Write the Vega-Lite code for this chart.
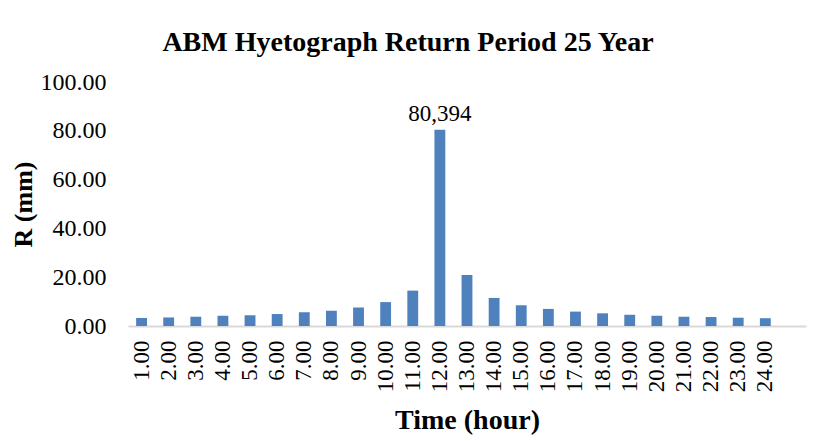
{
  "$schema": "https://vega.github.io/schema/vega-lite/v6.json",
  "width": 678,
  "height": 244,
  "autosize": {"type": "none"},
  "padding": {"left": 128, "top": 82, "right": 26, "bottom": 115},
  "background": "white",
  "title": {
    "text": "ABM Hyetograph Return Period 25 Year",
    "font": "Liberation Serif",
    "fontSize": 28,
    "fontWeight": "bold",
    "color": "black",
    "frame": "bounds",
    "anchor": "middle",
    "offset": 13
  },
  "data": {
    "values": [
      {"Time": "1.00", "R": 3.3},
      {"Time": "2.00", "R": 3.5},
      {"Time": "3.00", "R": 3.8},
      {"Time": "4.00", "R": 4.2},
      {"Time": "5.00", "R": 4.4},
      {"Time": "6.00", "R": 4.9},
      {"Time": "7.00", "R": 5.6},
      {"Time": "8.00", "R": 6.3},
      {"Time": "9.00", "R": 7.6},
      {"Time": "10.00", "R": 9.8},
      {"Time": "11.00", "R": 14.5},
      {"Time": "12.00", "R": 80.394, "label": "80,394"},
      {"Time": "13.00", "R": 20.9},
      {"Time": "14.00", "R": 11.5},
      {"Time": "15.00", "R": 8.5},
      {"Time": "16.00", "R": 7.0},
      {"Time": "17.00", "R": 5.9},
      {"Time": "18.00", "R": 5.2},
      {"Time": "19.00", "R": 4.6},
      {"Time": "20.00", "R": 4.2},
      {"Time": "21.00", "R": 3.8},
      {"Time": "22.00", "R": 3.7},
      {"Time": "23.00", "R": 3.4},
      {"Time": "24.00", "R": 3.2}
    ]
  },
  "encoding": {
    "x": {
      "field": "Time",
      "type": "ordinal",
      "sort": null,
      "scale": {
        "domain": ["1.00","2.00","3.00","4.00","5.00","6.00","7.00","8.00","9.00","10.00","11.00","12.00","13.00","14.00","15.00","16.00","17.00","18.00","19.00","20.00","21.00","22.00","23.00","24.00","25.00"],
        "paddingInner": 0.6,
        "paddingOuter": 0.3
      },
      "axis": {
        "title": "Time (hour)",
        "labelExpr": "datum.value == '25.00' ? '' : datum.value",
        "labelAngle": -90,
        "labelFont": "Liberation Serif",
        "labelFontSize": 23,
        "labelColor": "black",
        "labelPadding": 14,
        "ticks": false,
        "domainColor": "#d9d9d9",
        "domainWidth": 2,
        "titleFont": "Liberation Serif",
        "titleFontSize": 28,
        "titleFontWeight": "bold",
        "titleColor": "black",
        "titlePadding": 15
      }
    },
    "y": {
      "field": "R",
      "type": "quantitative",
      "scale": {"domain": [0, 100]},
      "axis": {
        "title": "R (mm)",
        "values": [0, 20, 40, 60, 80, 100],
        "format": ".2f",
        "grid": false,
        "domain": false,
        "ticks": false,
        "labelFont": "Liberation Serif",
        "labelFontSize": 24,
        "labelColor": "black",
        "labelPadding": 22,
        "titleFont": "Liberation Serif",
        "titleFontSize": 26,
        "titleFontWeight": "bold",
        "titleColor": "black",
        "titlePadding": 4
      }
    }
  },
  "layer": [
    {"mark": {"type": "bar", "color": "#4f81bd"}},
    {
      "transform": [{"filter": "datum.label"}],
      "mark": {"type": "text", "dy": -16, "font": "Liberation Serif", "fontSize": 23, "color": "black"},
      "encoding": {"text": {"field": "label"}}
    }
  ],
  "config": {"view": {"stroke": null}}
}
